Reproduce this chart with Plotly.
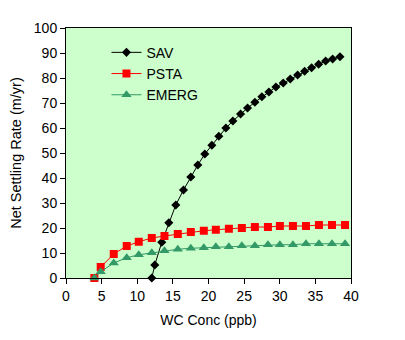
import plotly.graph_objects as go

sav_x = [12.04, 12.46, 13.44, 14.43, 15.41, 16.49, 17.52, 18.5, 19.48, 20.47, 21.45, 22.44, 23.42, 24.5,
         25.48, 26.51, 27.49, 28.48, 29.46, 30.49, 31.48, 32.51, 33.49, 34.47, 35.46, 36.44, 37.42, 38.45]
sav_y = [0, 5.2, 14.3, 22.1, 29.2, 35.2, 40.4, 45.2, 49.6, 53.1, 56.7, 60.0, 62.8, 65.6,
         68.0, 70.3, 72.5, 74.4, 76.4, 78.0, 79.6, 81.2, 82.7, 84.1, 85.5, 86.8, 87.6, 88.5]

psta_x = [3.98, 4.87, 6.70, 8.52, 10.21, 12.04, 13.82, 15.69, 17.52, 19.34, 21.03, 22.86, 24.68,
          26.51, 28.34, 30.02, 31.85, 33.68, 35.5, 37.33, 39.16]
psta_y = [0, 4.4, 9.6, 12.8, 14.5, 16.0, 16.8, 17.6, 18.4, 18.9, 19.3, 19.7, 20.0,
          20.4, 20.4, 20.8, 20.8, 20.8, 21.2, 21.2, 21.2]

emerg_x = psta_x
emerg_y = [0, 2.5, 6.0, 8.1, 9.3, 10.1, 10.9, 11.5, 11.9, 12.1, 12.5, 12.5, 12.9,
           12.9, 13.3, 13.3, 13.3, 13.7, 13.7, 13.7, 13.7]

x_ticks = [0, 5, 10, 15, 20, 25, 30, 35, 40]
y_ticks = [0, 10, 20, 30, 40, 50, 60, 70, 80, 90, 100]

FONT = "Arial, Liberation Sans, sans-serif"

fig = go.Figure()
fig.add_trace(go.Scatter(x=sav_x, y=sav_y, name="SAV", mode="lines+markers",
                         line=dict(color="black", width=1),
                         marker=dict(symbol="diamond", size=7, color="black"), cliponaxis=False))
fig.add_trace(go.Scatter(x=psta_x, y=psta_y, name="PSTA", mode="lines+markers",
                         line=dict(color="#FF0000", width=1),
                         marker=dict(symbol="square", size=8, color="#FF0000"), cliponaxis=False))
fig.add_trace(go.Scatter(x=emerg_x, y=emerg_y, name="EMERG", mode="lines+markers",
                         line=dict(color="#339966", width=1),
                         marker=dict(symbol="triangle-up", size=9, color="#339966"), cliponaxis=False))

fig.update_layout(
    width=405, height=340,
    margin=dict(l=66, r=54, t=28, b=62),
    paper_bgcolor="white",
    plot_bgcolor="#CCFFCC",
    font=dict(family=FONT, size=14, color="black"),
    showlegend=True,
    legend=dict(x=0.142, y=0.965, xanchor="left", yanchor="top",
                bgcolor="rgba(0,0,0,0)", font=dict(size=14), tracegroupgap=0),
    xaxis=dict(range=[0, 40], tickvals=x_ticks, showgrid=False, zeroline=False,
               showline=True, linecolor="black", linewidth=1, mirror=True,
               ticks="outside", ticklen=5, tickcolor="black",
               title=dict(text="WC Conc (ppb)", font=dict(size=14), standoff=12)),
    yaxis=dict(range=[0, 100], tickvals=y_ticks, showgrid=False, zeroline=False,
               showline=True, linecolor="black", linewidth=1, mirror=True,
               ticks="outside", ticklen=5, tickcolor="black",
               title=dict(text="Net Settling Rate (m/yr)", font=dict(size=14.5), standoff=8)),
)

fig.write_html("out.html")
